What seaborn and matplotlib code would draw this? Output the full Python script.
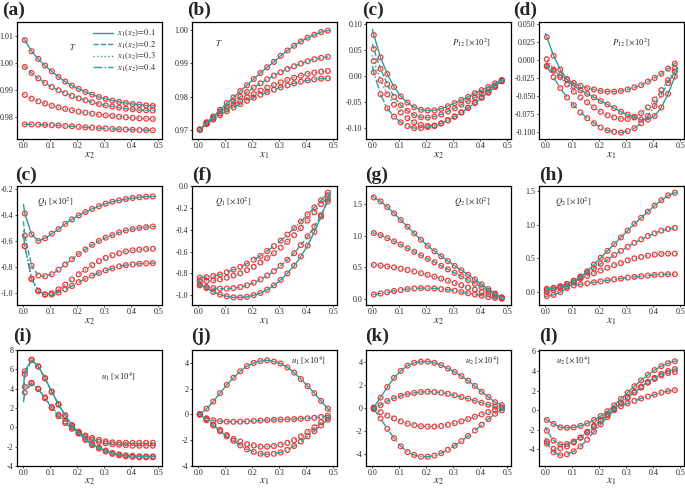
import matplotlib
matplotlib.use('Agg')
import matplotlib.pyplot as plt
import seaborn as sns

sns.set_style('ticks')
plt.rcParams['font.family'] = ['Liberation Serif', 'DejaVu Serif']
plt.rcParams['mathtext.fontset'] = 'stix'

# --- sample positions (line: x=0 .. 0.49, markers: inner 20 points) ---
x_line = [0.0, 0.005, 0.03, 0.055, 0.08, 0.105, 0.13, 0.155, 0.18, 0.205, 0.23,
          0.255, 0.28, 0.305, 0.33, 0.355, 0.38, 0.405, 0.43, 0.455, 0.48, 0.49]
x_mark = x_line[1:-1]

series_labels = [r'$x_1(x_2)\!=\!0.1$', r'$x_1(x_2)\!=\!0.2$',
                 r'$x_1(x_2)\!=\!0.3$', r'$x_1(x_2)\!=\!0.4$']
line_styles = ['-', '--', ':', '-.']

# (a) T vs x2
a1 = [1.0092, 1.0085, 1.0044, 1.0016, 0.9991, 0.9970, 0.9949, 0.9932, 0.9917, 0.9905, 0.9894, 0.9884, 0.9875, 0.9868, 0.9862, 0.9857, 0.9853, 0.9849, 0.9847, 0.9844, 0.9842, 0.9842]
a2 = [0.9990, 0.9986, 0.9964, 0.9944, 0.9927, 0.9912, 0.9900, 0.9889, 0.9879, 0.9870, 0.9863, 0.9856, 0.9849, 0.9844, 0.9840, 0.9836, 0.9832, 0.9830, 0.9827, 0.9826, 0.9825, 0.9825]
a3 = [0.9885, 0.9883, 0.9869, 0.9859, 0.9851, 0.9843, 0.9837, 0.9831, 0.9826, 0.9821, 0.9817, 0.9814, 0.9810, 0.9807, 0.9805, 0.9802, 0.9800, 0.9798, 0.9796, 0.9795, 0.9794, 0.9794]
a4 = [0.9775, 0.9774, 0.9774, 0.9773, 0.9772, 0.9771, 0.9770, 0.9768, 0.9767, 0.9765, 0.9763, 0.9762, 0.9760, 0.9759, 0.9757, 0.9756, 0.9755, 0.9754, 0.9753, 0.9753, 0.9752, 0.9752]
# (b) T vs x1
b1 = [0.9695, 0.9702, 0.9724, 0.9741, 0.9761, 0.9781, 0.9798, 0.9817, 0.9834, 0.9853, 0.9871, 0.9888, 0.9904, 0.9922, 0.9938, 0.9952, 0.9965, 0.9976, 0.9985, 0.9993, 0.9997, 0.9998]
b2 = [0.9695, 0.9702, 0.9722, 0.9739, 0.9756, 0.9771, 0.9786, 0.9800, 0.9814, 0.9827, 0.9840, 0.9852, 0.9863, 0.9873, 0.9883, 0.9891, 0.9899, 0.9906, 0.9912, 0.9916, 0.9919, 0.9920]
b3 = [0.9695, 0.9702, 0.9720, 0.9735, 0.9750, 0.9763, 0.9776, 0.9787, 0.9798, 0.9808, 0.9818, 0.9827, 0.9835, 0.9843, 0.9850, 0.9857, 0.9863, 0.9868, 0.9872, 0.9875, 0.9877, 0.9878]
b4 = [0.9695, 0.9702, 0.9718, 0.9732, 0.9745, 0.9757, 0.9768, 0.9778, 0.9788, 0.9797, 0.9806, 0.9814, 0.9821, 0.9828, 0.9834, 0.9840, 0.9845, 0.9849, 0.9852, 0.9854, 0.9855, 0.9856]
# (c) P12 vs x2
c1 = [0.090, 0.079, 0.036, 0.004, -0.021, -0.039, -0.051, -0.060, -0.065, -0.066, -0.066, -0.063, -0.058, -0.052, -0.046, -0.040, -0.033, -0.027, -0.021, -0.014, -0.008, -0.005]
c2 = [0.062, 0.052, 0.014, -0.016, -0.040, -0.056, -0.067, -0.075, -0.079, -0.080, -0.078, -0.074, -0.068, -0.062, -0.055, -0.048, -0.041, -0.034, -0.026, -0.018, -0.010, -0.007]
c3 = [0.040, 0.029, -0.008, -0.035, -0.055, -0.070, -0.081, -0.089, -0.094, -0.096, -0.095, -0.091, -0.085, -0.078, -0.070, -0.061, -0.051, -0.041, -0.031, -0.020, -0.008, -0.005]
c4 = [0.020, 0.007, -0.035, -0.062, -0.078, -0.089, -0.096, -0.100, -0.100, -0.098, -0.096, -0.091, -0.085, -0.078, -0.070, -0.061, -0.052, -0.042, -0.032, -0.021, -0.009, -0.006]
# (d) P12 vs x1
d1 = [0.037, 0.032, 0.006, -0.013, -0.027, -0.036, -0.042, -0.047, -0.052, -0.057, -0.062, -0.067, -0.072, -0.076, -0.080, -0.083, -0.083, -0.078, -0.066, -0.047, -0.023, -0.012]
d2 = [-0.006, -0.008, -0.015, -0.021, -0.027, -0.032, -0.036, -0.039, -0.041, -0.043, -0.044, -0.044, -0.043, -0.041, -0.038, -0.035, -0.030, -0.025, -0.019, -0.012, -0.005, -0.003]
d3 = [0.005, 0.001, -0.013, -0.024, -0.034, -0.044, -0.052, -0.059, -0.066, -0.072, -0.077, -0.080, -0.082, -0.082, -0.079, -0.074, -0.066, -0.055, -0.042, -0.028, -0.012, -0.006]
d4 = [-0.008, -0.009, -0.024, -0.039, -0.052, -0.063, -0.073, -0.081, -0.088, -0.094, -0.098, -0.100, -0.101, -0.099, -0.095, -0.088, -0.078, -0.064, -0.048, -0.032, -0.016, -0.010]
# (e) Q1 vs x2
e1 = [-0.32, -0.39, -0.55, -0.60, -0.58, -0.545, -0.51, -0.47, -0.435, -0.405, -0.38, -0.355, -0.335, -0.315, -0.30, -0.29, -0.28, -0.272, -0.266, -0.262, -0.26, -0.26]
e2 = [-0.45, -0.56, -0.79, -0.865, -0.87, -0.855, -0.82, -0.78, -0.74, -0.70, -0.665, -0.63, -0.60, -0.575, -0.555, -0.535, -0.52, -0.51, -0.50, -0.495, -0.49, -0.49]
e3 = [-0.52, -0.64, -0.89, -0.98, -1.01, -1.0, -0.97, -0.935, -0.895, -0.855, -0.82, -0.785, -0.755, -0.73, -0.71, -0.695, -0.68, -0.672, -0.666, -0.662, -0.66, -0.66]
e4 = [-0.55, -0.64, -0.89, -0.985, -1.01, -1.01, -0.995, -0.97, -0.945, -0.915, -0.89, -0.865, -0.845, -0.825, -0.81, -0.795, -0.785, -0.78, -0.775, -0.772, -0.77, -0.77]
# (f) Q1 vs x1
f1 = [-0.875, -0.90, -0.935, -0.97, -0.995, -1.01, -1.02, -1.02, -1.015, -1.0, -0.98, -0.95, -0.91, -0.86, -0.80, -0.73, -0.645, -0.545, -0.42, -0.28, -0.12, -0.06]
f2 = [-0.90, -0.91, -0.925, -0.935, -0.94, -0.94, -0.935, -0.925, -0.91, -0.885, -0.855, -0.82, -0.78, -0.73, -0.675, -0.615, -0.54, -0.46, -0.37, -0.265, -0.14, -0.08]
f3 = [-0.87, -0.87, -0.87, -0.865, -0.855, -0.84, -0.82, -0.80, -0.77, -0.74, -0.70, -0.66, -0.615, -0.565, -0.51, -0.45, -0.385, -0.315, -0.24, -0.165, -0.085, -0.05]
f4 = [-0.84, -0.84, -0.835, -0.825, -0.81, -0.79, -0.765, -0.74, -0.71, -0.675, -0.64, -0.595, -0.55, -0.50, -0.445, -0.385, -0.325, -0.26, -0.195, -0.13, -0.06, -0.04]
# (g) Q2 vs x2
g1 = [1.62, 1.60, 1.54, 1.45, 1.35, 1.245, 1.14, 1.035, 0.935, 0.84, 0.755, 0.675, 0.60, 0.525, 0.455, 0.385, 0.31, 0.235, 0.16, 0.09, 0.03, 0.01]
g2 = [1.05, 1.04, 1.01, 0.96, 0.91, 0.86, 0.80, 0.745, 0.69, 0.635, 0.58, 0.525, 0.47, 0.415, 0.36, 0.30, 0.245, 0.19, 0.13, 0.075, 0.025, 0.01]
g3 = [0.545, 0.54, 0.53, 0.515, 0.50, 0.48, 0.46, 0.435, 0.41, 0.385, 0.355, 0.325, 0.29, 0.255, 0.22, 0.185, 0.15, 0.115, 0.08, 0.045, 0.015, 0.005]
g4 = [0.07, 0.075, 0.09, 0.11, 0.13, 0.145, 0.16, 0.17, 0.175, 0.175, 0.17, 0.16, 0.15, 0.135, 0.115, 0.095, 0.075, 0.055, 0.035, 0.02, 0.01, 0.005]
# (h) Q2 vs x1
h1 = [-0.07, -0.06, -0.04, 0.0, 0.06, 0.14, 0.22, 0.31, 0.41, 0.51, 0.61, 0.71, 0.81, 0.91, 1.01, 1.10, 1.19, 1.28, 1.36, 1.43, 1.47, 1.48]
h2 = [0.0, 0.0, 0.03, 0.07, 0.12, 0.17, 0.23, 0.29, 0.35, 0.42, 0.48, 0.55, 0.61, 0.67, 0.73, 0.78, 0.83, 0.87, 0.91, 0.935, 0.95, 0.95]
h3 = [0.02, 0.03, 0.06, 0.09, 0.12, 0.16, 0.20, 0.24, 0.28, 0.32, 0.36, 0.40, 0.43, 0.47, 0.50, 0.52, 0.54, 0.555, 0.565, 0.57, 0.57, 0.57]
h4 = [0.04, 0.05, 0.06, 0.07, 0.085, 0.10, 0.115, 0.13, 0.145, 0.16, 0.175, 0.19, 0.20, 0.215, 0.225, 0.235, 0.245, 0.255, 0.26, 0.265, 0.265, 0.265]
# (i) u1 vs x2
i1 = [4.0, 5.8, 7.0, 6.3, 5.1, 3.7, 2.4, 1.25, 0.25, -0.55, -1.2, -1.75, -2.1, -2.4, -2.65, -2.8, -2.9, -2.95, -3.0, -3.0, -3.0, -3.0]
i2 = [3.4, 5.5, 6.95, 6.3, 5.05, 3.65, 2.35, 1.15, 0.15, -0.65, -1.3, -1.85, -2.2, -2.5, -2.75, -2.9, -3.0, -3.05, -3.1, -3.1, -3.1, -3.1]
i3 = [3.0, 4.2, 4.6, 4.0, 3.1, 2.1, 1.3, 0.6, 0.0, -0.45, -0.85, -1.1, -1.3, -1.45, -1.55, -1.6, -1.6, -1.6, -1.6, -1.6, -1.6, -1.6]
i4 = [2.6, 3.6, 4.55, 3.95, 3.0, 2.0, 1.15, 0.45, -0.15, -0.6, -1.0, -1.3, -1.5, -1.65, -1.75, -1.8, -1.85, -1.9, -1.9, -1.9, -1.9, -1.9]
# (j) u1 vs x1
j1 = [0.0, 0.0, 0.45, 1.0, 1.65, 2.3, 2.85, 3.35, 3.75, 4.0, 4.15, 4.2, 4.1, 3.95, 3.65, 3.25, 2.75, 2.2, 1.65, 1.05, 0.45, 0.2]
j2 = [0.0, 0.0, -0.3, -0.45, -0.52, -0.56, -0.57, -0.56, -0.54, -0.5, -0.47, -0.44, -0.42, -0.4, -0.38, -0.36, -0.33, -0.3, -0.26, -0.2, -0.1, -0.05]
j3 = [0.0, 0.0, -0.35, -0.8, -1.2, -1.6, -1.9, -2.1, -2.3, -2.4, -2.5, -2.5, -2.45, -2.35, -2.2, -2.0, -1.7, -1.35, -1.0, -0.6, -0.25, -0.1]
j4 = [0.0, 0.0, -0.45, -0.85, -1.3, -1.7, -2.05, -2.4, -2.7, -2.9, -3.05, -3.1, -3.05, -2.95, -2.75, -2.45, -2.1, -1.7, -1.3, -0.85, -0.4, -0.15]
# (k) u2 vs x2
k1 = [-0.1, 0.05, 0.9, 1.8, 2.6, 3.2, 3.65, 3.9, 4.0, 4.0, 3.9, 3.7, 3.4, 3.1, 2.75, 2.35, 1.9, 1.4, 0.95, 0.5, 0.25, -0.1]
k2 = [-0.1, 0.0, 0.25, 0.6, 0.85, 1.05, 1.2, 1.3, 1.38, 1.4, 1.38, 1.32, 1.22, 1.1, 0.95, 0.8, 0.62, 0.45, 0.28, 0.12, 0.0, -0.15]
k3 = [-0.1, -0.05, -0.35, -0.65, -0.9, -1.15, -1.35, -1.48, -1.57, -1.6, -1.6, -1.55, -1.45, -1.3, -1.15, -0.95, -0.75, -0.55, -0.35, -0.15, 0.05, -0.15]
k4 = [0.0, -0.1, -0.9, -1.8, -2.6, -3.3, -3.8, -4.05, -4.2, -4.2, -4.1, -3.9, -3.6, -3.25, -2.85, -2.4, -1.95, -1.45, -0.95, -0.5, -0.2, -0.2]
# (l) u2 vs x1
l1 = [-0.9, -1.0, -1.4, -1.75, -1.8, -1.75, -1.6, -1.35, -1.0, -0.6, -0.1, 0.5, 1.15, 1.8, 2.45, 3.05, 3.6, 4.1, 4.5, 4.8, 5.0, 5.05]
l2 = [-1.7, -2.1, -3.1, -3.5, -3.45, -3.2, -2.8, -2.3, -1.7, -1.1, -0.5, 0.1, 0.7, 1.3, 1.85, 2.4, 2.9, 3.3, 3.7, 4.0, 4.2, 4.25]
l3 = [-2.8, -3.2, -3.95, -3.9, -3.7, -3.3, -2.8, -2.2, -1.6, -1.0, -0.4, 0.15, 0.7, 1.25, 1.8, 2.3, 2.8, 3.2, 3.55, 3.8, 3.9, 3.95]
l4 = [-3.0, -3.4, -4.3, -4.6, -4.5, -4.2, -3.7, -3.0, -2.2, -1.45, -0.7, 0.0, 0.4, 0.7, 0.95, 1.2, 1.4, 1.6, 1.8, 1.95, 2.05, 2.1]

# panel settings: tag, xlabel, curves, note, note position, ylim, yticks, format
panels = [
    ('(a)', '$x_2$', [a1, a2, a3, a4], '$T$', (0.36, 0.79), (0.972, 1.0152), [0.98, 0.99, 1.00, 1.01], '%.2f'),
    ('(b)', '$x_1$', [b1, b2, b3, b4], '$T$', (0.16, 0.82), (0.9674, 1.0023), [0.97, 0.98, 0.99, 1.00], '%.2f'),
    ('(c)', '$x_2$', [c1, c2, c3, c4], r'$P_{12}$ [$\times$10$^2$]', (0.59, 0.82), (-0.121, 0.104), [-0.10, -0.05, 0.0, 0.05, 0.10], '%.2f'),
    ('(d)', '$x_1$', [d1, d2, d3, d4], r'$P_{12}$ [$\times$10$^2$]', (0.50, 0.82), (-0.110, 0.053), [-0.1, -0.075, -0.05, -0.025, 0.0, 0.025, 0.05], '%.3f'),
    ('(c)', '$x_2$', [e1, e2, e3, e4], r'$Q_1$ [$\times$10$^2$]', (0.14, 0.86), (-1.09, -0.18), [-1.0, -0.8, -0.6, -0.4, -0.2], '%.1f'),
    ('(f)', '$x_1$', [f1, f2, f3, f4], r'$Q_1$ [$\times$10$^2$]', (0.16, 0.86), (-1.09, 0.001), [-1.0, -0.8, -0.6, -0.4, -0.2, 0.0], '%.1f'),
    ('(g)', '$x_2$', [g1, g2, g3, g4], r'$Q_2$ [$\times$10$^2$]', (0.61, 0.86), (-0.09, 1.78), [0.0, 0.5, 1.0, 1.5], '%.1f'),
    ('(h)', '$x_1$', [h1, h2, h3, h4], r'$Q_2$ [$\times$10$^2$]', (0.11, 0.86), (-0.19, 1.57), [0.0, 0.5, 1.0, 1.5], '%.1f'),
    ('(i)', '$x_2$', [i1, i2, i3, i4], r'$u_1$ [$\times$10$^4$]', (0.58, 0.77), (-4, 8), [-4, -2, 0, 2, 4, 6, 8], '%d'),
    ('(j)', '$x_1$', [j1, j2, j3, j4], r'$u_1$ [$\times$10$^4$]', (0.68, 0.91), (-4, 5), [-4, -2, 0, 2, 4], '%d'),
    ('(k)', '$x_2$', [k1, k2, k3, k4], r'$u_2$ [$\times$10$^4$]', (0.68, 0.91), (-5, 5), [-4, -2, 0, 2, 4], '%d'),
    ('(l)', '$x_1$', [l1, l2, l3, l4], r'$u_2$ [$\times$10$^4$]', (0.12, 0.91), (-5.7, 6.15), [-4, -2, 0, 2, 4, 6], '%d'),
]

W, H = 685, 488
col_left = [17, 192, 366, 539]
row_top = [22, 186, 350]
row_h = [117, 119, 116]
ax_w = 145
tag_pos = [(2, 10), (187, 10), (362, 10), (513, 10),
           (15, 175), (192, 175), (365, 175), (539, 175),
           (13, 336), (191, 336), (365, 336), (539, 336)]

teal = '#2a9e9b'
red = '#ff2020'

fig = plt.figure(figsize=(W / 100, H / 100), dpi=100)

for p, (tag, xlab, curves, note, npos, ylim, yticks, fmt) in enumerate(panels):
    r, c = divmod(p, 4)
    L, T, h = col_left[c], row_top[r], row_h[r]
    ax = fig.add_axes([L / W, 1 - (T + h) / H, ax_w / W, h / H])

    for k, vals in enumerate(curves):
        sns.scatterplot(x=x_mark, y=vals[1:-1], ax=ax, marker='o', s=12,
                        facecolor='none', edgecolor=red, linewidth=0.9,
                        alpha=0.9, zorder=2)
        kw = {}
        if p == 0:
            kw['label'] = series_labels[k]
        sns.lineplot(x=x_line, y=vals, ax=ax, color=teal, linestyle=line_styles[k],
                     linewidth=1.0, zorder=3, **kw)

    ax.set_xlim(-0.024, 0.514)
    ax.set_xticks([0.0, 0.1, 0.2, 0.3, 0.4, 0.5])
    ax.set_xticklabels(['0.0', '0.1', '0.2', '0.3', '0.4', '0.5'])
    ax.set_ylim(*ylim)
    ax.set_yticks(yticks)
    ax.set_yticklabels([fmt % v for v in yticks])
    ax.set_xlabel(xlab, fontsize=8, labelpad=-1 if r == 2 else 0)
    ax.set_ylabel('')
    ax.tick_params(labelsize=5.8, length=1.5, width=0.6, pad=1.0)
    for s in ax.spines.values():
        s.set_visible(True)
        s.set_linewidth(0.9)
        s.set_color('black')

    ax.text(npos[0], npos[1], note, transform=ax.transAxes, fontsize=6.2,
            ha='left', va='center')
    fig.text(tag_pos[p][0] / W, 1 - tag_pos[p][1] / H, tag, fontsize=14,
             fontweight='bold', ha='left', va='center')

    if p == 0:
        ax.legend(loc='upper right', frameon=False, fontsize=6.2, handlelength=2.4,
                  labelspacing=0.05, borderaxespad=0.3, handletextpad=0.4)
    elif ax.get_legend() is not None:
        ax.get_legend().remove()

fig.savefig('out.png', dpi=100)
